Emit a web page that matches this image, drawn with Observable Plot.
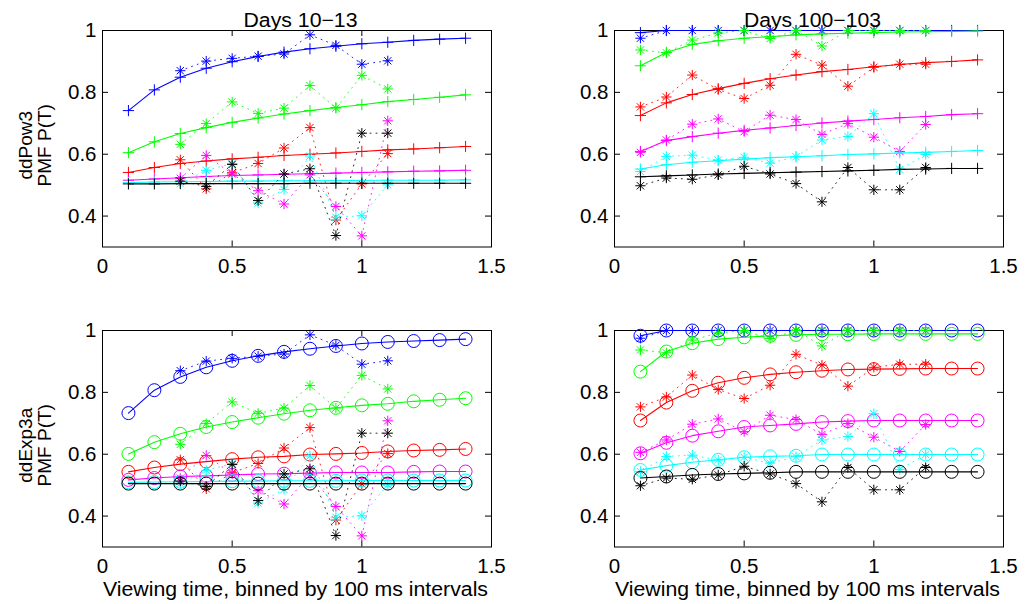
<!DOCTYPE html>
<html><head><meta charset="utf-8">
<script src="https://cdn.jsdelivr.net/npm/d3@7"></script>
<script src="https://cdn.jsdelivr.net/npm/@observablehq/plot@0.6"></script>
<style>
body{margin:0;background:#fff;}
#chart{position:relative;width:1025px;height:604px;font-family:"Liberation Sans",Arial,sans-serif;background:#fff;}
.panel{position:absolute;}
#overlay{position:absolute;left:0;top:0;pointer-events:none;}
</style></head><body><div id="chart"></div><script>
// ---- data ----
const seriesColors = ["#0000ff", "#00ff00", "#ff0000", "#ff00ff", "#00ffff", "#000000"];
const xModel = [0.1, 0.2, 0.3, 0.4, 0.5, 0.6, 0.7, 0.8, 0.9, 1.0, 1.1, 1.2, 1.3, 1.4];
const xObsEarly = [0.3, 0.4, 0.5, 0.6, 0.7, 0.8, 0.9, 1.0, 1.1];
const xObsLate = [0.1, 0.2, 0.3, 0.4, 0.5, 0.6, 0.7, 0.8, 0.9, 1.0, 1.1, 1.2];
const xTicks = [0, 0.5, 1, 1.5];
const yTicks = [0.4, 0.6, 0.8, 1];
const panelTitles = ["Days 10\u221213", "Days 100\u2212103"];
const rowLabels = [["ddPow3", "PMF P(T)"], ["ddExp3a", "PMF P(T)"]];
const xLabel = "Viewing time, binned by 100 ms intervals";

// observed (series order: blue, green, red, magenta, cyan, black)
const obsEarly = [
  [0.870, 0.901, 0.910, 0.917, 0.924, 0.986, 0.952, 0.891, 0.902],
  [0.632, 0.699, 0.769, 0.732, 0.749, 0.822, 0.749, 0.855, 0.811],
  [0.582, 0.488, 0.540, 0.570, 0.620, 0.686, 0.387, 0.504, 0.602],
  [0.522, 0.596, 0.536, 0.482, 0.439, 0.533, 0.431, 0.336, 0.708],
  [0.505, 0.548, 0.570, 0.442, 0.486, 0.594, 0.396, 0.401, 0.501],
  [0.513, 0.496, 0.567, 0.450, 0.536, 0.553, 0.337, 0.668, 0.668]
];
const obsLate = [
  [0.975, 1.0, 1.0, 1.0, 1.0, 1.0, 1.0, 1.0, 1.0, 1.0, 1.0, 1.0],
  [0.937, 0.928, 0.969, 0.992, 1.0, 0.974, 1.0, 0.950, 1.0, 1.0, 1.0, 1.0],
  [0.753, 0.785, 0.856, 0.809, 0.780, 0.823, 0.923, 0.888, 0.820, 0.881, 0.891, 0.891],
  [0.606, 0.646, 0.697, 0.714, 0.673, 0.726, 0.712, 0.664, 0.699, 0.655, 0.609, 0.696],
  [0.544, 0.593, 0.597, 0.581, 0.590, 0.571, 0.592, 0.646, 0.657, 0.731, 0.551, 0.599],
  [0.498, 0.523, 0.519, 0.533, 0.561, 0.536, 0.505, 0.446, 0.557, 0.485, 0.485, 0.557]
];
// models
const pow3Early = [
  [0.741, 0.808, 0.849, 0.878, 0.899, 0.916, 0.930, 0.941, 0.949, 0.957, 0.962, 0.968, 0.972, 0.975],
  [0.605, 0.640, 0.667, 0.686, 0.703, 0.717, 0.730, 0.741, 0.751, 0.760, 0.770, 0.777, 0.784, 0.792],
  [0.541, 0.557, 0.570, 0.578, 0.585, 0.590, 0.596, 0.600, 0.604, 0.609, 0.614, 0.617, 0.621, 0.625],
  [0.516, 0.520, 0.524, 0.528, 0.531, 0.533, 0.535, 0.537, 0.539, 0.541, 0.543, 0.545, 0.546, 0.548],
  [0.508, 0.510, 0.511, 0.512, 0.513, 0.513, 0.514, 0.514, 0.515, 0.515, 0.516, 0.516, 0.516, 0.517],
  [0.504, 0.504, 0.505, 0.505, 0.505, 0.505, 0.505, 0.506, 0.506, 0.506, 0.506, 0.506, 0.506, 0.506]
];
const pow3Late = [
  [0.993, 1.0, 1.0, 1.0, 1.0, 1.0, 1.0, 1.0, 1.0, 1.0, 1.0, 1.0, 1.0, 1.0],
  [0.886, 0.929, 0.955, 0.967, 0.975, 0.980, 0.986, 0.989, 0.991, 0.993, 0.995, 0.996, 0.997, 0.998],
  [0.725, 0.766, 0.793, 0.812, 0.829, 0.844, 0.856, 0.867, 0.874, 0.883, 0.890, 0.896, 0.900, 0.905],
  [0.609, 0.644, 0.657, 0.668, 0.677, 0.685, 0.693, 0.701, 0.707, 0.712, 0.718, 0.722, 0.728, 0.731],
  [0.552, 0.566, 0.574, 0.579, 0.584, 0.589, 0.592, 0.595, 0.599, 0.601, 0.604, 0.606, 0.609, 0.612],
  [0.527, 0.530, 0.533, 0.536, 0.538, 0.540, 0.542, 0.544, 0.546, 0.548, 0.551, 0.552, 0.554, 0.554]
];
const exp3aEarly = [
  [0.733, 0.807, 0.850, 0.881, 0.902, 0.918, 0.931, 0.941, 0.950, 0.958, 0.963, 0.966, 0.969, 0.972],
  [0.601, 0.639, 0.666, 0.688, 0.704, 0.718, 0.731, 0.742, 0.750, 0.758, 0.763, 0.771, 0.776, 0.781],
  [0.543, 0.557, 0.568, 0.576, 0.584, 0.590, 0.593, 0.599, 0.601, 0.604, 0.609, 0.612, 0.614, 0.617],
  [0.517, 0.523, 0.528, 0.530, 0.533, 0.536, 0.537, 0.539, 0.541, 0.541, 0.541, 0.543, 0.544, 0.544],
  [0.509, 0.510, 0.511, 0.512, 0.513, 0.513, 0.514, 0.514, 0.514, 0.515, 0.515, 0.515, 0.515, 0.515],
  [0.505, 0.505, 0.505, 0.505, 0.505, 0.505, 0.505, 0.505, 0.505, 0.505, 0.505, 0.505, 0.505, 0.505]
];
const exp3aLate = [
  [0.983, 1.0, 1.0, 1.0, 1.0, 1.0, 1.0, 1.0, 1.0, 1.0, 1.0, 1.0, 1.0, 1.0],
  [0.867, 0.932, 0.959, 0.972, 0.978, 0.983, 0.986, 0.988, 0.988, 0.989, 0.989, 0.989, 0.989, 0.989],
  [0.709, 0.767, 0.805, 0.831, 0.847, 0.858, 0.865, 0.870, 0.874, 0.875, 0.876, 0.877, 0.877, 0.877],
  [0.603, 0.637, 0.660, 0.674, 0.688, 0.693, 0.698, 0.704, 0.707, 0.709, 0.709, 0.709, 0.709, 0.709],
  [0.549, 0.563, 0.574, 0.582, 0.590, 0.593, 0.595, 0.599, 0.599, 0.599, 0.599, 0.599, 0.599, 0.599],
  [0.523, 0.528, 0.533, 0.536, 0.538, 0.540, 0.543, 0.543, 0.543, 0.543, 0.543, 0.543, 0.543, 0.543]
];

// ---- layout ----
const W = 389, H = 216.5, mL = 50, mR = 20, mT = 25, mB = 40;
const chart = document.getElementById("chart");
const FONT = "'Liberation Sans', Arial, sans-serif";

function panel(model, obs, xObs, symbol, left, top) {
  const marks = [
    Plot.frame({stroke: "black", strokeWidth: 1}),
    Plot.tickX(xTicks, {x: d => d, insetTop: H - 6, stroke: "black"}),
    Plot.tickX(xTicks, {x: d => d, insetBottom: H - 6, stroke: "black"}),
    Plot.tickY(yTicks, {y: d => d, insetRight: W - 6, stroke: "black"}),
    Plot.tickY(yTicks, {y: d => d, insetLeft: W - 6, stroke: "black"})
  ];
  seriesColors.forEach((c, i) => {
    const odata = xObs.map((x, j) => ({x, y: obs[i][j]}));
    const mdata = xModel.map((x, j) => ({x, y: model[i][j]}));
    marks.push(Plot.line(odata, {x: "x", y: "y", stroke: c, strokeWidth: 1, strokeDasharray: "1,5", strokeOpacity: 0.85}));
    marks.push(Plot.dot(odata, {x: "x", y: "y", symbol: "plus", r: 3.4, stroke: c, strokeWidth: 1}));
    marks.push(Plot.dot(odata, {x: "x", y: "y", symbol: "times", r: 3.4, stroke: c, strokeWidth: 1}));
    marks.push(Plot.line(mdata, {x: "x", y: "y", stroke: c, strokeWidth: 1.1}));
    marks.push(Plot.dot(mdata, {x: "x", y: "y", symbol, r: symbol === "circle" ? 6.5 : 3.7, stroke: c, fill: "none", strokeWidth: 1}));
  });
  const svg = Plot.plot({
    width: W + mL + mR, height: H + mT + mB,
    marginLeft: mL, marginRight: mR, marginTop: mT, marginBottom: mB,
    x: {domain: [0, 1.5], ticks: xTicks, tickSize: 0, tickPadding: 11, tickFormat: d => String(d), label: null},
    y: {domain: [0.3, 1], ticks: yTicks, tickSize: 0, tickPadding: 6, tickFormat: d => String(d), label: null},
    style: {fontSize: "20.5px", fontFamily: FONT, background: "transparent", overflow: "visible", color: "black"},
    marks
  });
  const div = document.createElement("div");
  div.className = "panel";
  div.style.left = (left - mL) + "px";
  div.style.top = (top - mT) + "px";
  div.appendChild(svg);
  chart.appendChild(div);
}

const colLeft = [102, 614];
const rowTop = [30, 330];
panel(pow3Early, obsEarly, xObsEarly, "plus", colLeft[0], rowTop[0]);
panel(pow3Late, obsLate, xObsLate, "plus", colLeft[1], rowTop[0]);
panel(exp3aEarly, obsEarly, xObsEarly, "circle", colLeft[0], rowTop[1]);
panel(exp3aLate, obsLate, xObsLate, "circle", colLeft[1], rowTop[1]);

// ---- text overlay ----
const ns = "http://www.w3.org/2000/svg";
const ov = document.createElementNS(ns, "svg");
ov.setAttribute("id", "overlay");
ov.setAttribute("width", 1025);
ov.setAttribute("height", 604);
function txt(parent, s, x, y, attrs = {}) {
  const t = document.createElementNS(ns, "text");
  t.setAttribute("x", x); t.setAttribute("y", y);
  t.setAttribute("text-anchor", "middle");
  t.setAttribute("font-family", FONT);
  t.setAttribute("font-size", "20px");
  t.setAttribute("fill", "black");
  for (const k in attrs) t.setAttribute(k, attrs[k]);
  t.textContent = s;
  parent.appendChild(t);
  return t;
}
panelTitles.forEach((s, i) => txt(ov, s, colLeft[i] + W / 2 + 4, 27, {"textLength": i === 0 ? 114 : 137, "lengthAdjust": "spacingAndGlyphs"}));
colLeft.forEach(l => txt(ov, xLabel, l + W / 2 - 1, 596, {"textLength": 385, "lengthAdjust": "spacingAndGlyphs"}));
rowTop.forEach((t, r) => {
  const g = document.createElementNS(ns, "g");
  g.setAttribute("transform", `translate(34.5,${t + H / 2 + 7}) rotate(-90)`);
  txt(g, rowLabels[r][0], 0, -9.5, {"dominant-baseline": "central", "font-size": "19px"});
  txt(g, rowLabels[r][1], 0, 9.5, {"dominant-baseline": "central", "font-size": "19px"});
  ov.appendChild(g);
});
chart.appendChild(ov);
</script></body></html>
